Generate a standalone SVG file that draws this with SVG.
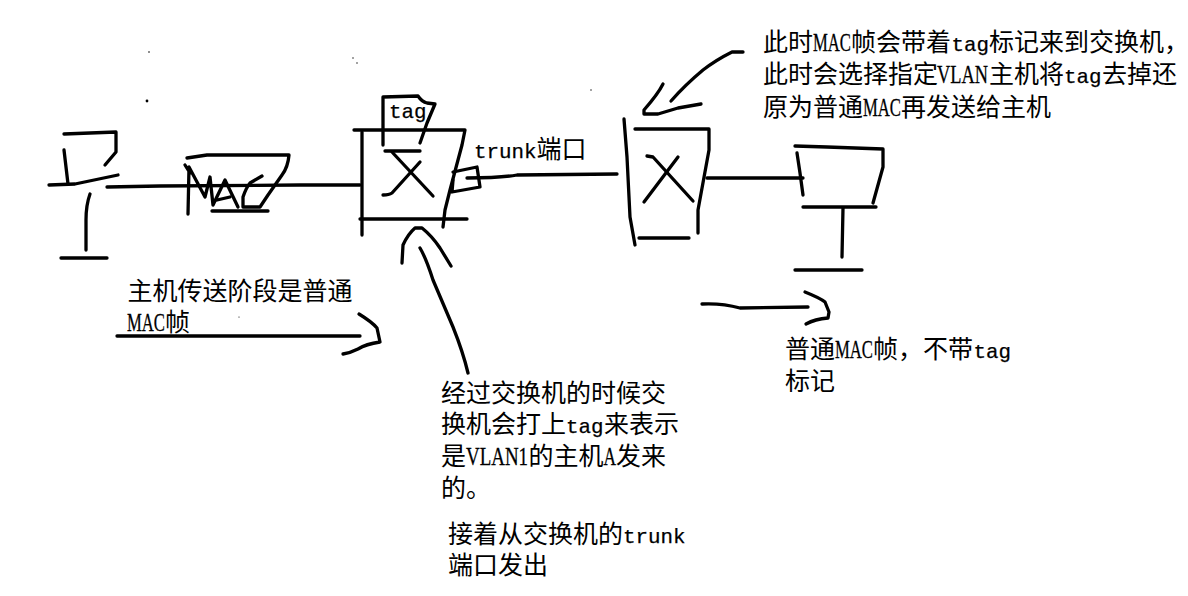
<svg xmlns="http://www.w3.org/2000/svg" width="1188" height="596" viewBox="0 0 1188 596">
<style>
.s{fill:none;stroke:#000;stroke-width:3.3;stroke-linecap:round;stroke-linejoin:round}
.d{fill:#000}
text{font-family:"Noto Sans CJK SC",sans-serif;font-size:25px;fill:#000}
.l{font-family:"Liberation Mono",monospace;font-size:20.83px;stroke:#000;stroke-width:.25}
.u{font-family:"Liberation Serif",serif;font-size:26px;stroke:#000;stroke-width:.3}
</style>
<rect width="1188" height="596" fill="#fff"/>
<g id="specks">
<circle class="d" cx="149" cy="52" r="0.8"/><circle class="d" cx="147" cy="101" r="1.4"/><circle class="d" cx="353" cy="58" r="0.7"/><circle class="d" cx="357" cy="63" r="0.7"/><circle class="d" cx="591" cy="90" r="0.7"/><circle class="d" cx="239" cy="317" r="0.6"/>
</g>
<g id="connectors">
<path class="s" d="M107 187 L160 186 L300 185 L360 185"/>
<path class="s" d="M467 178 Q500 178 517 175 L617 174"/>
<path class="s" d="M707 178 L803 178"/>
<path class="s" d="M117 336 L360 336"/>
<path class="s" d="M359 314 Q372 322 377 328 L380 342 Q366 344 358 349 Q350 353 343 354"/>
<path class="s" d="M420 248 Q426 258 433 280 L453 327 Q463 352 468 373"/>
<path class="s" d="M402 263 L403 245 Q408 234 415 228 L422 228 Q432 236 440 248 L451 266"/>
<path class="s" d="M743 52 L732 52 Q716 60 703 70 Q685 85 671 101"/>
<path class="s" d="M663 84 Q658 94 644 110 L644 114 L658 114 L678 108 L701 104"/>
<path class="s" d="M702 304 Q722 303 740 308 L808 307"/>
<path class="s" d="M805 292 Q820 298 825 302 L829 312 L828 318 Q815 319 806 324"/>
</g>
<g id="host-a">
<path class="s" d="M64 134 L116 132 L116 152 L105 165"/>
<path class="s" d="M64 150 L68 184"/>
<path class="s" d="M49 185 L75 184 L118 175"/>
<path class="s" d="M90 194 Q86 205 86 220 L86 250"/>
<path class="s" d="M61 258 L107 258"/>
</g>
<g id="mac-frame">
<path class="s" d="M187 158 L207 155 L289 155 Q288 167 282 175 L268 195 L260 207 L243 207 L243 197 Q246 188 250 183 L262 176"/>
<path class="s" d="M185 165 L190 173 M188 214 L189 167 L205 197 L210 177 L213 205 L225 180 L238 207"/>
<path class="s" d="M217 200 L230 197"/>
<path class="s" d="M212 211 L268 211"/>
</g>
<g id="switch-1">
<path class="s" d="M354 130 L465 130 L462 145 L450 190 L445 210 L443 227"/>
<path class="s" d="M362 132 L362 235"/>
<path class="s" d="M360 219 L467 219"/>
<path class="s" d="M385 151 L420 151"/>
<path class="s" d="M392 152 L433 196"/>
<path class="s" d="M383 195 Q389 195 392 193 L420 162"/>
<path class="s" d="M383 145 L383 97 L418 96 Q422 102 427 103 L435 104 L427 123 L420 143"/>
<path class="s" d="M453 172 L477 167 L480 187 L452 192 L453 180"/>
<text id="tag-label" x="389" y="118"><tspan class="l">tag</tspan></text>
</g>
<g id="switch-2">
<path class="s" d="M624 119 L627 157 L630 217 L635 245"/>
<path class="s" d="M635 129 L709 129 L709 150 L698 210 L698 233"/>
<path class="s" d="M639 238 L689 238"/>
<path class="s" d="M647 156 L653 157 L693 201"/>
<path class="s" d="M678 157 L644 202"/>
</g>
<g id="host-b">
<path class="s" d="M795 146 L827 147 L883 149 L883 167 L873 203"/>
<path class="s" d="M797 153 L800 173 L803 195"/>
<path class="s" d="M803 207 L876 207"/>
<path class="s" d="M843 208 L842 257"/>
<path class="s" d="M795 270 L862 270"/>
</g>
<g id="labels">
<text x="474" y="158"><tspan class="l">trunk</tspan><tspan x="536.5">端口</tspan></text>
<text x="763" y="51">此时<tspan class="u" x="813" textLength="38" lengthAdjust="spacingAndGlyphs">MAC</tspan><tspan x="851">帧会带着</tspan><tspan class="l" x="951.5">tag</tspan><tspan x="989">标记来到交换机，</tspan></text>
<text x="763" y="83">此时会选择指定<tspan class="u" x="937" textLength="51" lengthAdjust="spacingAndGlyphs">VLAN</tspan><tspan x="989">主机将</tspan><tspan class="l" x="1064">tag</tspan><tspan x="1102">去掉还</tspan></text>
<text x="763" y="116">原为普通<tspan class="u" x="863" textLength="38" lengthAdjust="spacingAndGlyphs">MAC</tspan><tspan x="901">再发送给主机</tspan></text>
<text x="127.5" y="300">主机传送阶段是普通</text>
<text x="127" y="331"><tspan class="u" x="127" textLength="38" lengthAdjust="spacingAndGlyphs">MAC</tspan><tspan x="165">帧</tspan></text>
<text x="441" y="402">经过交换机的时候交</text>
<text x="441" y="433">换机会打上<tspan class="l" x="566">tag</tspan><tspan x="604">来表示</tspan></text>
<text x="441" y="465">是<tspan class="u" x="466" textLength="62" lengthAdjust="spacingAndGlyphs">VLAN1</tspan><tspan x="528.5">的主机</tspan><tspan class="u" x="603.5" textLength="12.5" lengthAdjust="spacingAndGlyphs">A</tspan><tspan x="616">发来</tspan></text>
<text x="441" y="497">的。</text>
<text x="448" y="543">接着从交换机的<tspan class="l" x="623">trunk</tspan></text>
<text x="448" y="574">端口发出</text>
<text x="785" y="358">普通<tspan class="u" x="835" textLength="38" lengthAdjust="spacingAndGlyphs">MAC</tspan><tspan x="873">帧，不带</tspan><tspan class="l" x="973.5">tag</tspan></text>
<text x="785" y="390">标记</text>
</g>
</svg>
